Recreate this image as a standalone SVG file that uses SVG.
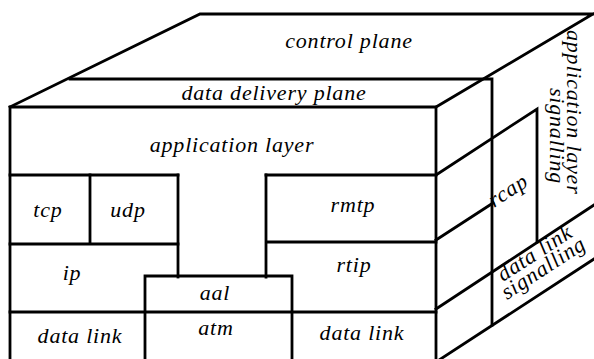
<svg xmlns="http://www.w3.org/2000/svg" width="594" height="359" viewBox="0 0 594 359">
  <style>
    .ln { fill: none; stroke: #000; stroke-width: 2.8; stroke-linecap: square; stroke-linejoin: miter; }
    .c { text-anchor: middle; }
  </style>
  <rect width="594" height="359" fill="#fff"/>

  <g font-family="Liberation Serif, Times New Roman, serif" font-style="italic" font-size="22" letter-spacing="0.8" fill="#000">

  <!-- top face: control plane -->
  <g id="control-plane">
    <path class="ln" d="M10,107 L200,14 L593,14 M436,107 L593,14"/>
    <text class="c" x="349" y="48">control plane</text>
  </g>

  <!-- data delivery plane (back slab) -->
  <g id="data-delivery-plane">
    <path class="ln" d="M70,79 L492,79 L492,325"/>
    <text class="c" x="274" y="100">data delivery plane</text>
  </g>

  <!-- front face outline -->
  <g id="front-face">
    <path class="ln" d="M10,359 L10,107 L436,107 L436,359"/>
  </g>

  <g id="application-layer">
    <path class="ln" d="M10,175 L178,175 M266,175 L436,175"/>
    <text class="c" x="232" y="152">application layer</text>
  </g>

  <g id="tcp">
    <path class="ln" d="M90,175 L90,244 M10,244 L178,244"/>
    <text class="c" x="48" y="217">tcp</text>
  </g>

  <g id="udp">
    <path class="ln" d="M178,175 L178,277"/>
    <text class="c" x="128" y="217">udp</text>
  </g>

  <g id="ip">
    <text class="c" x="72" y="280">ip</text>
  </g>

  <g id="rmtp">
    <path class="ln" d="M266,175 L266,277 M266,242 L436,242"/>
    <text class="c" x="353" y="212">rmtp</text>
  </g>

  <g id="rtip">
    <text class="c" x="354" y="272">rtip</text>
  </g>

  <g id="aal">
    <path class="ln" d="M145,359 L145,276 L292,276 L292,359 M10,312 L436,312"/>
    <text class="c" x="215" y="300">aal</text>
  </g>

  <g id="atm">
    <text class="c" x="216" y="335">atm</text>
  </g>

  <g id="data-link-left">
    <text class="c" x="80" y="343">data link</text>
  </g>

  <g id="data-link-right">
    <text class="c" x="362" y="340">data link</text>
  </g>

  <!-- side face: signalling planes -->
  <g id="application-layer-signalling">
    <path class="ln" d="M436,175 L537,109 L537,242"/>
    <text transform="translate(567,30) rotate(90)">application layer</text>
    <text transform="translate(550,88) rotate(90)">signalling</text>
  </g>

  <g id="rcap">
    <path class="ln" d="M436,240 L493,203"/>
    <text transform="translate(494,208) rotate(-33)">rcap</text>
  </g>

  <g id="data-link-signalling">
    <path class="ln" d="M436,309 L594,205 M436,362 L594,259"/>
    <text transform="translate(503,282) rotate(-33)">data link</text>
    <text transform="translate(507,300) rotate(-33)">signalling</text>
  </g>

  </g>
</svg>
